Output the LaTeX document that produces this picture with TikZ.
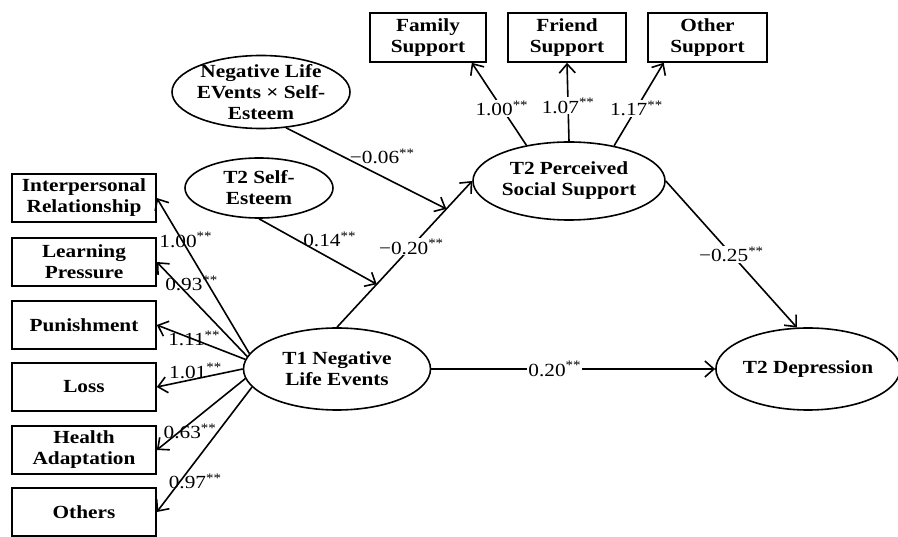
\documentclass[tikz,border=0pt]{standalone}
\usepackage{fontspec}
\setmainfont{Liberation Serif}[FakeStretch=1.15]
\usetikzlibrary{shapes.geometric,arrows.meta,calc}

\newcommand{\sig}[1]{#1\textsuperscript{**}}

\begin{document}
\begin{tikzpicture}[x=1pt,y=-1pt,line width=1.6pt,
  every node/.style={font=\fontsize{18.5}{21}\selectfont,align=center},
  obs/.style={draw,rectangle,inner sep=0pt,font=\fontsize{18.5}{21}\selectfont\bfseries},
  lat/.style={draw,ellipse,inner sep=0pt,font=\fontsize{18.5}{21}\selectfont\bfseries},
  arr/.style={-{Straight Barb[length=9pt,width=16pt]}},
  coef/.style={fill=white,inner sep=1pt},
  load/.style={inner sep=0pt}]

\useasboundingbox (0,0) rectangle (898,537);

% latent variables
\node[lat,minimum width=187pt,minimum height=82pt](t1) at (337,369) {T1 Negative\\Life Events};
\node[lat,minimum width=192pt,minimum height=78pt](pss) at (569,181) {T2 Perceived\\Social Support};
\node[lat,minimum width=173pt,minimum height=82pt](dep) at (808,369) {T2 Depression};
\node[lat,minimum width=148pt,minimum height=60pt](se) at (259,188) {T2 Self-\\Esteem};
\node[lat,minimum width=178pt,minimum height=73pt,inner ysep=-8pt,inner xsep=-4pt](int) at (261,92) {Negative Life\\EVents × Self-\\Esteem};

% indicators of T1
\node[obs,minimum width=144pt,minimum height=48pt](ir) at (84,198) {Interpersonal\\Relationship};
\node[obs,minimum width=144pt,minimum height=48pt](lp) at (84,262) {Learning\\Pressure};
\node[obs,minimum width=144pt,minimum height=48pt](pu) at (84,325) {Punishment};
\node[obs,minimum width=144pt,minimum height=48pt](lo) at (84,387) {Loss};
\node[obs,minimum width=144pt,minimum height=48pt](ha) at (84,450) {Health\\Adaptation};
\node[obs,minimum width=144pt,minimum height=48pt](ot) at (84,512) {Others};

% indicators of T2 support
\node[obs,minimum width=116pt,minimum height=49pt](fam) at (428,37.5) {Family\\Support};
\node[obs,minimum width=118pt,minimum height=49pt](fri) at (567,37.5) {Friend\\Support};
\node[obs,minimum width=119pt,minimum height=49pt](oth) at (707.5,37.5) {Other\\Support};

\coordinate(m1) at ($(t1.north)!0.294!(pss.west)$);
\coordinate(m2) at ($(t1.north)!0.809!(pss.west)$);

\draw[arr](t1.170)--node[load,pos=0.73,xshift=4pt]{\sig{1.00}}(ir.east);
\draw[arr](t1.172)--node[load,pos=0.77,xshift=14pt]{\sig{0.93}}(lp.east);
\draw[arr](t1.174)--node[load,pos=0.6,xshift=2pt]{\sig{1.11}}(pu.east);
\draw[arr](t1.180)--node[load,pos=0.55,yshift=8pt]{\sig{1.01}}(lo.east);
\draw[arr](t1.186)--node[load,pos=0.625,yshift=-8pt]{\sig{0.63}}(ha.east);
\draw[arr](t1.192)--node[load,pos=0.66,xshift=6pt,yshift=-12pt]{\sig{0.97}}(ot.east);

\draw[arr](t1.north)--node[coef,pos=0.55]{\sig{−0.20}}(pss.west);
\draw[arr](se.south)--node[load,pos=0.6,above=10pt]{\sig{0.14}}(m1);
\draw[arr](int.-55)--node[load,pos=0.6,above=12pt]{\sig{−0.06}}(m2);

\draw[arr](pss.140)--node[coef,pos=0.45]{\sig{1.00}}(fam.-30);
\draw[arr](pss.north)--node[coef,pos=0.45]{\sig{1.07}}(fri.south);
\draw[arr](pss.38)--node[coef,pos=0.45]{\sig{1.17}}(oth.210);

\draw[arr](pss.east)--node[coef,pos=0.5]{\sig{−0.25}}(dep.105);
\draw[arr](t1.east)--node[coef,pos=0.435]{\sig{0.20}}(dep.west);
\end{tikzpicture}
\end{document}
